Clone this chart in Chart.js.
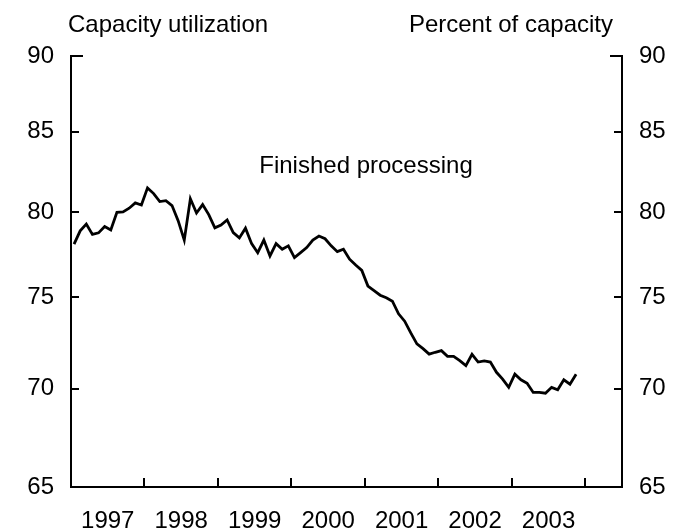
<!DOCTYPE html>
<html>
<head>
<meta charset="utf-8">
<script src="https://cdn.jsdelivr.net/npm/chart.js@4/dist/chart.umd.min.js"></script>
<style>
  html, body { margin: 0; padding: 0; background: #fff; }
  #wrap { width: 699px; height: 532px; }
</style>
</head>
<body>
<div id="wrap"><canvas id="capChart" width="699" height="532"></canvas></div>
<script>
// monthly, Jan 1997 - Nov 2003
const utilization = [
  78.08, 78.87, 79.27, 78.66, 78.75, 79.13, 78.92, 79.98, 80.01, 80.23, 80.55, 80.42,
  81.47, 81.12, 80.63, 80.69, 80.39, 79.48, 78.32, 80.80, 79.94, 80.45, 79.84, 79.05,
  79.22, 79.52, 78.77, 78.45, 79.03, 78.11, 77.58, 78.32, 77.39, 78.11, 77.78, 77.98,
  77.29, 77.58, 77.88, 78.32, 78.56, 78.40, 77.98, 77.64, 77.78, 77.20, 76.86, 76.55,
  75.65, 75.39, 75.13, 74.98, 74.79, 74.08, 73.67, 73.02, 72.42, 72.16, 71.86, 71.96,
  72.05, 71.74, 71.74, 71.51, 71.24, 71.85, 71.43, 71.49, 71.43, 70.88, 70.52, 70.08,
  70.78, 70.48, 70.30, 69.81, 69.81, 69.77, 70.08, 69.95, 70.48, 70.25, 70.78
];
const years = ['1997', '1998', '1999', '2000', '2001', '2002', '2003'];
const yearTickMonths = [12, 24, 36, 48, 60, 72, 84];
const yTicks = [65, 70, 75, 80, 85, 90];

const FONT = "'Liberation Sans', Arial, sans-serif";

const points = utilization.map((v, i) => ({ x: i + 0.5, y: v }));

const decorations = {
  id: 'decorations',
  afterDatasetsDraw(chart) {
    const { ctx, chartArea, scales } = chart;
    const x = scales.x, y = scales.y;
    ctx.save();
    ctx.strokeStyle = '#000';
    ctx.lineWidth = 2;
    ctx.beginPath();
    yTicks.forEach((v) => {
      if (v === 65) return;
      const py = Math.round(y.getPixelForValue(v));
      const len = v === 90 ? 12 : 8;
      ctx.moveTo(chartArea.left, py);
      ctx.lineTo(chartArea.left + len, py);
      ctx.moveTo(chartArea.right, py);
      ctx.lineTo(chartArea.right - len, py);
    });
    yearTickMonths.forEach((m) => {
      const px = Math.round(x.getPixelForValue(m));
      ctx.moveTo(px, chartArea.bottom);
      ctx.lineTo(px, chartArea.bottom - 9);
    });
    ctx.stroke();

    ctx.fillStyle = '#000';
    ctx.font = '24px ' + FONT;
    ctx.textBaseline = 'middle';
    ctx.textAlign = 'left';
    ctx.fillText('Capacity utilization', 68, 25);
    ctx.textAlign = 'right';
    ctx.fillText('Percent of capacity', 613, 25);
    ctx.textAlign = 'center';
    ctx.fillText('Finished processing', 366, 166);
    ctx.restore();
  }
};

const yTickOpts = {
  font: { family: FONT, size: 24 },
  color: '#000',
  padding: 17,
  autoSkip: false,
  callback: (v) => String(v)
};

new Chart(document.getElementById('capChart'), {
  type: 'line',
  data: {
    datasets: [{
      data: points,
      borderColor: '#000',
      borderWidth: 2.8,
      pointRadius: 0,
      tension: 0,
      fill: false
    }]
  },
  options: {
    responsive: false,
    animation: false,
    layout: { padding: { top: 56, left: 0, right: 0, bottom: 0 } },
    plugins: { legend: { display: false }, tooltip: { enabled: false } },
    scales: {
      x: {
        type: 'linear',
        min: 0,
        max: 90,
        grid: { display: false, drawTicks: false },
        border: { display: true, color: '#000', width: 2 },
        afterBuildTicks: (scale) => { scale.ticks = years.map((_, i) => ({ value: i * 12 + 6 })); },
        afterFit: (scale) => { scale.height = 45; },
        ticks: {
          font: { family: FONT, size: 24 },
          color: '#000',
          padding: 20,
          maxRotation: 0,
          autoSkip: false,
          callback: (v) => years[Math.round((v - 6) / 12)]
        }
      },
      y: {
        type: 'logarithmic',
        position: 'left',
        min: 65,
        max: 90,
        grid: { display: false, drawTicks: false },
        border: { display: true, color: '#000', width: 2 },
        afterBuildTicks: (scale) => { scale.ticks = yTicks.map((v) => ({ value: v })); },
        afterFit: (scale) => { scale.width = 71; },
        ticks: yTickOpts
      },
      y2: {
        type: 'logarithmic',
        position: 'right',
        min: 65,
        max: 90,
        grid: { display: false, drawTicks: false },
        border: { display: true, color: '#000', width: 2 },
        afterBuildTicks: (scale) => { scale.ticks = yTicks.map((v) => ({ value: v })); },
        afterFit: (scale) => { scale.width = 77; },
        ticks: yTickOpts
      }
    }
  },
  plugins: [decorations]
});
</script>
</body>
</html>
